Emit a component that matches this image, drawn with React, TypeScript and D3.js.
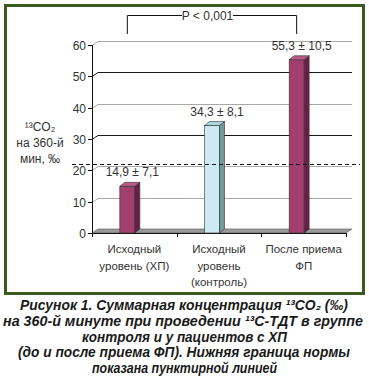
import React, { useEffect, useRef } from 'react';
import * as d3 from 'd3';

// Data
const categories = [['Исходный', 'уровень (ХП)'], ['Исходный', 'уровень', '(контроль)'], ['После приема', 'ФП']];
const values = [14.9, 34.3, 55.3];
const errors = ['7,1', '8,1', '10,5'];
const barColors = ['purple', 'blue', 'purple'];
const yTicks = [0, 10, 20, 30, 40, 50, 60];
const darkGrid = [30, 50];
const normLow = 22;
const pLabel = 'P < 0,001';
const yTitle = ['¹³CO₂', 'на 360-й', 'мин, ‰'];
const caption = [
    'Рисунок 1. Суммарная концентрация ¹³CO₂ (‰)',
    'на 360-й минуте при проведении ¹³С-ТДТ в группе',
    'контроля и у пациентов с ХП',
    '(до и после приема ФП). Нижняя граница нормы',
    'показана пунктирной линией',
];

const App = () => {
    const svgRef = useRef<SVGSVGElement>(null);

    useEffect(() => {
        const width = 369;
        const height = 378;
        const left = 92;
        const right = 346;
        const dx = 6;
        const dy = 4;
        const font = '"Liberation Sans", Arial, sans-serif';

        const svg = d3.select(svgRef.current)
            .attr('width', width)
            .attr('height', height)
            .style('position', 'absolute')
            .style('left', 0)
            .style('top', 0)
            .style('background', '#fff');

        svg.selectAll('*').remove();

        // Scales
        const x = d3.scaleBand<number>()
            .domain(values.map((_, i) => i))
            .range([left, right]);
        const y = d3.scaleLinear().domain([0, 60]).range([233, 45]);

        // Frame
        svg.append('rect')
            .attr('x', 5.5).attr('y', 5.5)
            .attr('width', 358).attr('height', 288)
            .attr('fill', 'none')
            .attr('stroke', '#3b5a1f')
            .attr('stroke-width', 3);

        // Gridlines (back wall)
        yTicks.filter(t => t > 0).forEach(t => {
            const yy = Math.round(y(t)) + 0.5;
            svg.append('path')
                .attr('d', `M${left},${yy}L${left + dx},${yy - dy}L${right + dx},${yy - dy}`)
                .attr('fill', 'none')
                .attr('stroke', darkGrid.includes(t) ? '#1a1a1a' : '#a8a8a8')
                .attr('stroke-width', 1);
        });

        // Floor
        const y0 = y(0);
        svg.append('path')
            .attr('d', `M${left},${y0}L${left + dx},${y0 - dy}L${right + dx},${y0 - dy}L${right},${y0}Z`)
            .attr('fill', '#9a9a9a')
            .attr('stroke', '#555')
            .attr('stroke-width', 0.6);

        // Y axis
        svg.append('line')
            .attr('x1', left + 0.5).attr('x2', left + 0.5)
            .attr('y1', y(60)).attr('y2', y0)
            .attr('stroke', '#111');
        yTicks.forEach(t => {
            const yy = Math.round(y(t)) + 0.5;
            svg.append('line')
                .attr('x1', left - 4).attr('x2', left)
                .attr('y1', yy).attr('y2', yy)
                .attr('stroke', '#111');
            svg.append('text')
                .attr('x', left - 6).attr('y', yy + 4)
                .attr('text-anchor', 'end')
                .attr('font-family', font).attr('font-size', 12)
                .attr('fill', '#333')
                .text(t);
        });

        // X axis
        svg.append('line')
            .attr('x1', left).attr('x2', right)
            .attr('y1', y0 + 0.5).attr('y2', y0 + 0.5)
            .attr('stroke', '#111');
        [...values.map((_, i) => x(i) as number), right].forEach(xx => {
            svg.append('line')
                .attr('x1', Math.round(xx) + 0.5).attr('x2', Math.round(xx) + 0.5)
                .attr('y1', y0).attr('y2', y0 + 4)
                .attr('stroke', '#111');
        });

        // Bars
        const palette: Record<string, { front: string; side: string; top: string }> = {
            purple: { front: '#a1406f', side: '#6a1e45', top: '#b85a88' },
            blue: { front: '#cdeaf2', side: '#6f9b9c', top: '#a9d6df' },
        };
        const bw = 15;
        const bdx = 5;
        values.forEach((v, i) => {
            const c = palette[barColors[i]];
            const cx = (x(i) as number) + x.bandwidth() / 2;
            const x0 = cx - 14.5;
            const yt = y(v);
            const g = svg.append('g').attr('stroke', '#333').attr('stroke-width', 0.6);
            g.append('rect')
                .attr('x', x0).attr('y', yt)
                .attr('width', bw).attr('height', y0 - yt)
                .attr('fill', c.front);
            g.append('path')
                .attr('d', `M${x0 + bw},${yt}L${x0 + bw + bdx},${yt - dy}L${x0 + bw + bdx},${y0 - dy}L${x0 + bw},${y0}Z`)
                .attr('fill', c.side);
            g.append('path')
                .attr('d', `M${x0},${yt}L${x0 + bdx},${yt - dy}L${x0 + bw + bdx},${yt - dy}L${x0 + bw},${yt}Z`)
                .attr('fill', c.top);

            svg.append('text')
                .attr('x', cx - 2).attr('y', yt - dy - 6)
                .attr('text-anchor', 'middle')
                .attr('font-family', font).attr('font-size', 12)
                .attr('fill', '#333')
                .text(`${String(v).replace('.', ',')} ± ${errors[i]}`);

            categories[i].forEach((line, j) => {
                svg.append('text')
                    .attr('x', cx).attr('y', 253 + j * 16.5)
                    .attr('text-anchor', 'middle')
                    .attr('font-family', font).attr('font-size', 11.5)
                    .attr('fill', '#333')
                    .text(line);
            });
        });

        // Norm line
        svg.append('line')
            .attr('x1', 72).attr('x2', 360)
            .attr('y1', Math.round(y(normLow)) + 0.5).attr('y2', Math.round(y(normLow)) + 0.5)
            .attr('stroke', '#111')
            .attr('stroke-dasharray', '4,3');

        // P bracket
        const bx1 = (x(0) as number) + x.bandwidth() / 2 - 7;
        const bx2 = (x(2) as number) + x.bandwidth() / 2 - 7;
        const by = 15.5;
        svg.append('path')
            .attr('d', `M${bx1},34V${by}H182M233,${by}H${bx2}V34`)
            .attr('fill', 'none')
            .attr('stroke', '#111');
        svg.append('text')
            .attr('x', 207.5).attr('y', 20)
            .attr('text-anchor', 'middle')
            .attr('font-family', font).attr('font-size', 12)
            .attr('fill', '#333')
            .text(pLabel);

        // Y title
        yTitle.forEach((t, j) => {
            svg.append('text')
                .attr('x', 40).attr('y', 131 + j * 16)
                .attr('text-anchor', 'middle')
                .attr('font-family', font).attr('font-size', 12)
                .attr('fill', '#333')
                .text(t);
        });

        // Caption
        const spans: [number, number, number][] = [
            [310, 20, 348],
            [326, 3, 363],
            [342, 82, 287],
            [357, 18, 350],
            [373, 92, 277],
        ];
        caption.forEach((t, j) => {
            const [yy, x1, x2] = spans[j];
            svg.append('text')
                .attr('x', (x1 + x2) / 2).attr('y', yy)
                .attr('text-anchor', 'middle')
                .attr('font-family', font).attr('font-size', 14)
                .attr('font-weight', 'bold').attr('font-style', 'italic')
                .attr('fill', '#1a1a1a')
                .attr('textLength', x2 - x1)
                .attr('lengthAdjust', 'spacingAndGlyphs')
                .text(t);
        });
    }, []);

    return <svg ref={svgRef}></svg>;
};

export default App;
